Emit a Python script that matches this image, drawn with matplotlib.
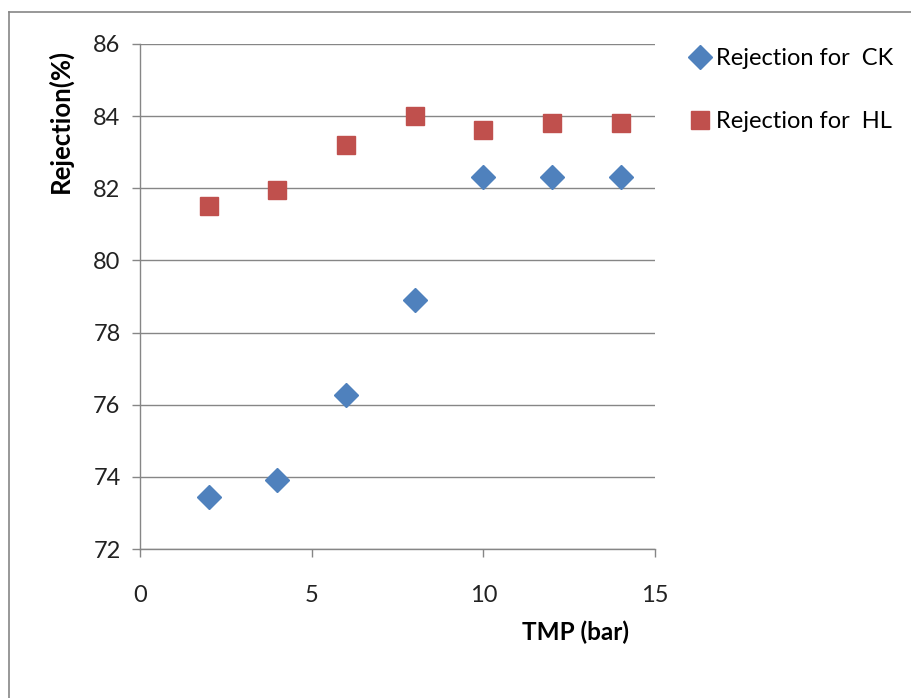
import matplotlib
matplotlib.use('Agg')

import matplotlib.pyplot as plt
from matplotlib.lines import Line2D

# data
tmp = [2, 4, 6, 8, 10, 12, 14]
rej_ck = [73.45, 73.9, 76.27, 78.9, 82.3, 82.3, 82.3]
rej_hl = [81.5, 81.95, 83.2, 84.0, 83.62, 83.8, 83.8]

xticks = [0, 5, 10, 15]
yticks = [72, 74, 76, 78, 80, 82, 84, 86]

plt.rcParams['font.family'] = ['Lato', 'DejaVu Sans']

fig = plt.figure(figsize=(9.11, 6.98), dpi=100)
ax = fig.add_axes([140/911, 1 - 549/698, (655-140)/911, (549-44)/698])

grey = '#868686'

ax.plot(tmp, rej_ck, linestyle='none', marker='D', markersize=12,
        color='#4F81BD', label='Rejection for  CK')
ax.plot(tmp, rej_hl, linestyle='none', marker='s', markersize=13,
        color='#C0504D', label='Rejection for  HL')

ax.set_xlim(0, 15)
ax.set_ylim(72, 86)
ax.set_xticks(xticks)
ax.set_yticks(yticks)
ax.yaxis.grid(True, color=grey, linewidth=1.0)
ax.set_axisbelow(True)

for s in ['top', 'right']:
  ax.spines[s].set_visible(False)
for s in ['left', 'bottom']:
  ax.spines[s].set_color(grey)
  ax.spines[s].set_linewidth(1.0)

ax.tick_params(axis='both', direction='out', color=grey, length=6, width=1.0,
               labelsize=17, colors='#222222')
ax.tick_params(axis='x', pad=20)
ax.tick_params(axis='y', pad=8)

fig.text(60/911, 1 - 121/698, 'Rejection(%)', rotation=90, fontsize=18.5,
         fontweight='bold', ha='center', va='center')
fig.text(575/911, 1 - 632/698, 'TMP (bar)', fontsize=17.5,
         fontweight='bold', ha='center', va='center')

ax.legend(loc='upper left', bbox_to_anchor=(692/911, 1 - 48/698),
          bbox_transform=fig.transFigure, frameon=False, fontsize=17,
          labelspacing=1.78, handlelength=0.7, handletextpad=0.3,
          borderaxespad=0, borderpad=0)

# outer chart-area frame (only top and left edges fall inside the image)
fig.add_artist(Line2D([9/911, 9/911], [-0.05, 1 - 12/698], color=grey,
                      linewidth=1.2, transform=fig.transFigure))
fig.add_artist(Line2D([9/911, 1.05], [1 - 12/698, 1 - 12/698], color=grey,
                      linewidth=1.2, transform=fig.transFigure))

fig.savefig('out.png', dpi=100)
